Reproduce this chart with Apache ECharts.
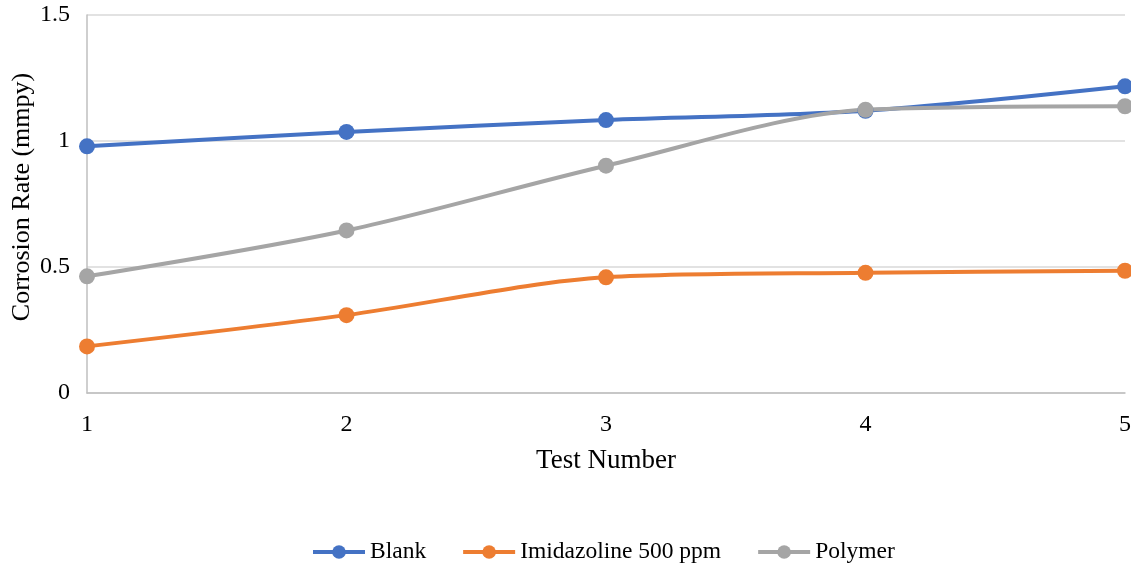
<!DOCTYPE html>
<html>
<head>
<meta charset="utf-8">
<script src="https://cdn.jsdelivr.net/npm/echarts@6/dist/echarts.min.js"></script>
<style>
  html, body { margin: 0; padding: 0; background: #fff; }
  #chart { width: 1131px; height: 567px; }
</style>
</head>
<body>
<div id="chart"></div>
<script>
// test numbers along x
var testNumbers = ['1', '2', '3', '4', '5']
// corrosion rate, mmpy
var blank = [0.979, 1.036, 1.083, 1.12, 1.217]
var imidazoline = [0.185, 0.309, 0.459, 0.477, 0.485]
var polymer = [0.463, 0.645, 0.902, 1.124, 1.138]

var font = 'Liberation Serif, Times New Roman, serif'

function line (name, data, color) {
  return {
    name: name,
    type: 'line',
    smooth: 0.3,
    data: data,
    symbol: 'circle',
    symbolSize: 16,
    itemStyle: { color: color },
    lineStyle: { width: 4, color: color }
  }
}

var chart = echarts.init(document.getElementById('chart'))
var option = {
  animation: false,
  grid: { left: 87, right: 6, top: 15, bottom: 174, outerBoundsMode: 'none', containLabel: false },
  legend: {
    top: 535,
    left: 306,
    itemWidth: 52,
    itemHeight: 17,
    itemGap: 35,
    lineStyle: { width: 4 },
    textStyle: { fontFamily: font, fontSize: 23.5, color: '#000' },
    data: ['Blank', 'Imidazoline 500 ppm', 'Polymer']
  },
  xAxis: {
    type: 'category',
    boundaryGap: false,
    data: testNumbers,
    name: 'Test Number',
    nameLocation: 'middle',
    nameGap: 54,
    nameMoveOverlap: false,
    nameTextStyle: { fontFamily: font, fontSize: 27, color: '#000' },
    axisLine: { lineStyle: { color: '#bfbfbf', width: 1.5 } },
    axisTick: { show: false },
    axisLabel: { fontFamily: font, fontSize: 24, color: '#000', margin: 20 }
  },
  yAxis: {
    type: 'value',
    min: 0,
    max: 1.5,
    interval: 0.5,
    name: 'Corrosion Rate (mmpy)',
    nameLocation: 'middle',
    nameGap: 52,
    nameMoveOverlap: false,
    nameTextStyle: { fontFamily: font, fontSize: 26, color: '#000', padding: [0, 0, 0, 14] },
    axisLine: { show: true, lineStyle: { color: '#bfbfbf', width: 1.5 } },
    axisTick: { show: false },
    axisLabel: { fontFamily: font, fontSize: 24, color: '#000', margin: 17 },
    splitLine: { lineStyle: { color: '#d9d9d9', width: 1.5 } }
  },
  series: [
    line('Blank', blank, '#4472c4'),
    line('Imidazoline 500 ppm', imidazoline, '#ed7d31'),
    line('Polymer', polymer, '#a5a5a5')
  ]
}
chart.setOption(option)
</script>
</body>
</html>
